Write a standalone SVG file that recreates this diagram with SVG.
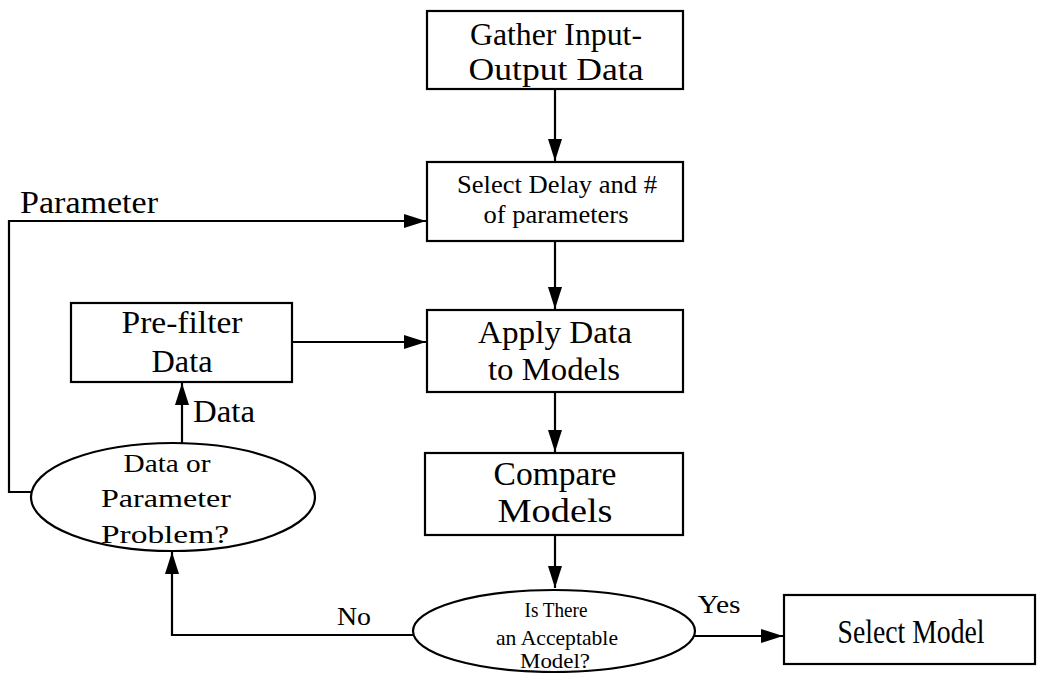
<svg xmlns="http://www.w3.org/2000/svg" width="1042" height="673" viewBox="0 0 1042 673">
<style>
.box{fill:#fff;stroke:#000;stroke-width:2.2}
.ln{fill:none;stroke:#000;stroke-width:2.2}
text{font-family:"Liberation Serif","Times New Roman",serif;fill:#000;text-anchor:middle}
.l{font-size:33px}
.m{font-size:31px}
.s{font-size:26px}
.xs{font-size:22px}
</style>
<defs>
<marker id="ah" viewBox="0 0 22 14" refX="22" refY="7" markerWidth="22" markerHeight="14" markerUnits="userSpaceOnUse" orient="auto">
<path d="M0,0 L22,7 L0,14 Z" fill="#000"/>
</marker>
</defs>
<rect width="1042" height="673" fill="#fff"/>
<g id="connectors">
<path class="ln" d="M555,89 V161" marker-end="url(#ah)"/>
<path class="ln" d="M555,241 V309" marker-end="url(#ah)"/>
<path class="ln" d="M555,392 V452" marker-end="url(#ah)"/>
<path class="ln" d="M555,535 V588" marker-end="url(#ah)"/>
<path class="ln" d="M292,342 H426" marker-end="url(#ah)"/>
<path class="ln" d="M182,443 V383" marker-end="url(#ah)"/>
<path class="ln" d="M31,492 H9 V221 H426" marker-end="url(#ah)"/>
<path class="ln" d="M413,635 H172 V552" marker-end="url(#ah)"/>
<path class="ln" d="M694,636 H783" marker-end="url(#ah)"/>
<text class="m" x="20" y="213" textLength="138" lengthAdjust="spacingAndGlyphs" style="text-anchor:start">Parameter</text>
<text class="m" x="193" y="422" textLength="62" lengthAdjust="spacingAndGlyphs" style="text-anchor:start">Data</text>
<text class="s" x="354" y="625" textLength="34" lengthAdjust="spacingAndGlyphs">No</text>
<text class="s" x="719" y="613" textLength="43" lengthAdjust="spacingAndGlyphs">Yes</text>
</g>
<g id="gather">
<rect class="box" x="427" y="11" width="256" height="78"/>
<text class="m" x="556" y="45" textLength="172" lengthAdjust="spacingAndGlyphs">Gather Input-</text>
<text class="m" x="556" y="80" textLength="175" lengthAdjust="spacingAndGlyphs">Output Data</text>
</g>
<g id="select-delay">
<rect class="box" x="427" y="162" width="256" height="79"/>
<text class="s" x="557" y="193" textLength="200" lengthAdjust="spacingAndGlyphs">Select Delay and #</text>
<text class="s" x="556" y="223" textLength="145" lengthAdjust="spacingAndGlyphs">of parameters</text>
</g>
<g id="prefilter">
<rect class="box" x="71" y="303" width="221" height="79"/>
<text class="m" x="182" y="333" textLength="121" lengthAdjust="spacingAndGlyphs">Pre-filter</text>
<text class="m" x="182" y="372" textLength="61" lengthAdjust="spacingAndGlyphs">Data</text>
</g>
<g id="apply">
<rect class="box" x="427" y="310" width="256" height="82"/>
<text class="m" x="555" y="343" textLength="154" lengthAdjust="spacingAndGlyphs">Apply Data</text>
<text class="m" x="554" y="380" textLength="132" lengthAdjust="spacingAndGlyphs">to Models</text>
</g>
<g id="problem">
<ellipse class="box" cx="173" cy="497" rx="142" ry="54"/>
<text class="s" x="167" y="472" textLength="87" lengthAdjust="spacingAndGlyphs">Data or</text>
<text class="s" x="166" y="507" textLength="130" lengthAdjust="spacingAndGlyphs">Parameter</text>
<text class="s" x="165" y="543" textLength="128" lengthAdjust="spacingAndGlyphs">Problem?</text>
</g>
<g id="compare">
<rect class="box" x="425" y="453" width="258" height="82"/>
<text class="l" x="555" y="485" textLength="123" lengthAdjust="spacingAndGlyphs">Compare</text>
<text class="l" x="555" y="522" textLength="115" lengthAdjust="spacingAndGlyphs">Models</text>
</g>
<g id="acceptable">
<ellipse class="box" cx="554" cy="631" rx="141" ry="41"/>
<text class="xs" x="556" y="617" textLength="63" lengthAdjust="spacingAndGlyphs">Is There</text>
<text class="xs" x="557" y="645" textLength="122" lengthAdjust="spacingAndGlyphs">an Acceptable</text>
<text class="xs" x="555" y="668" textLength="70" lengthAdjust="spacingAndGlyphs">Model?</text>
</g>
<g id="select-model">
<rect class="box" x="784" y="595" width="251" height="69"/>
<text class="l" x="911" y="643" textLength="147" lengthAdjust="spacingAndGlyphs">Select Model</text>
</g>
</svg>
